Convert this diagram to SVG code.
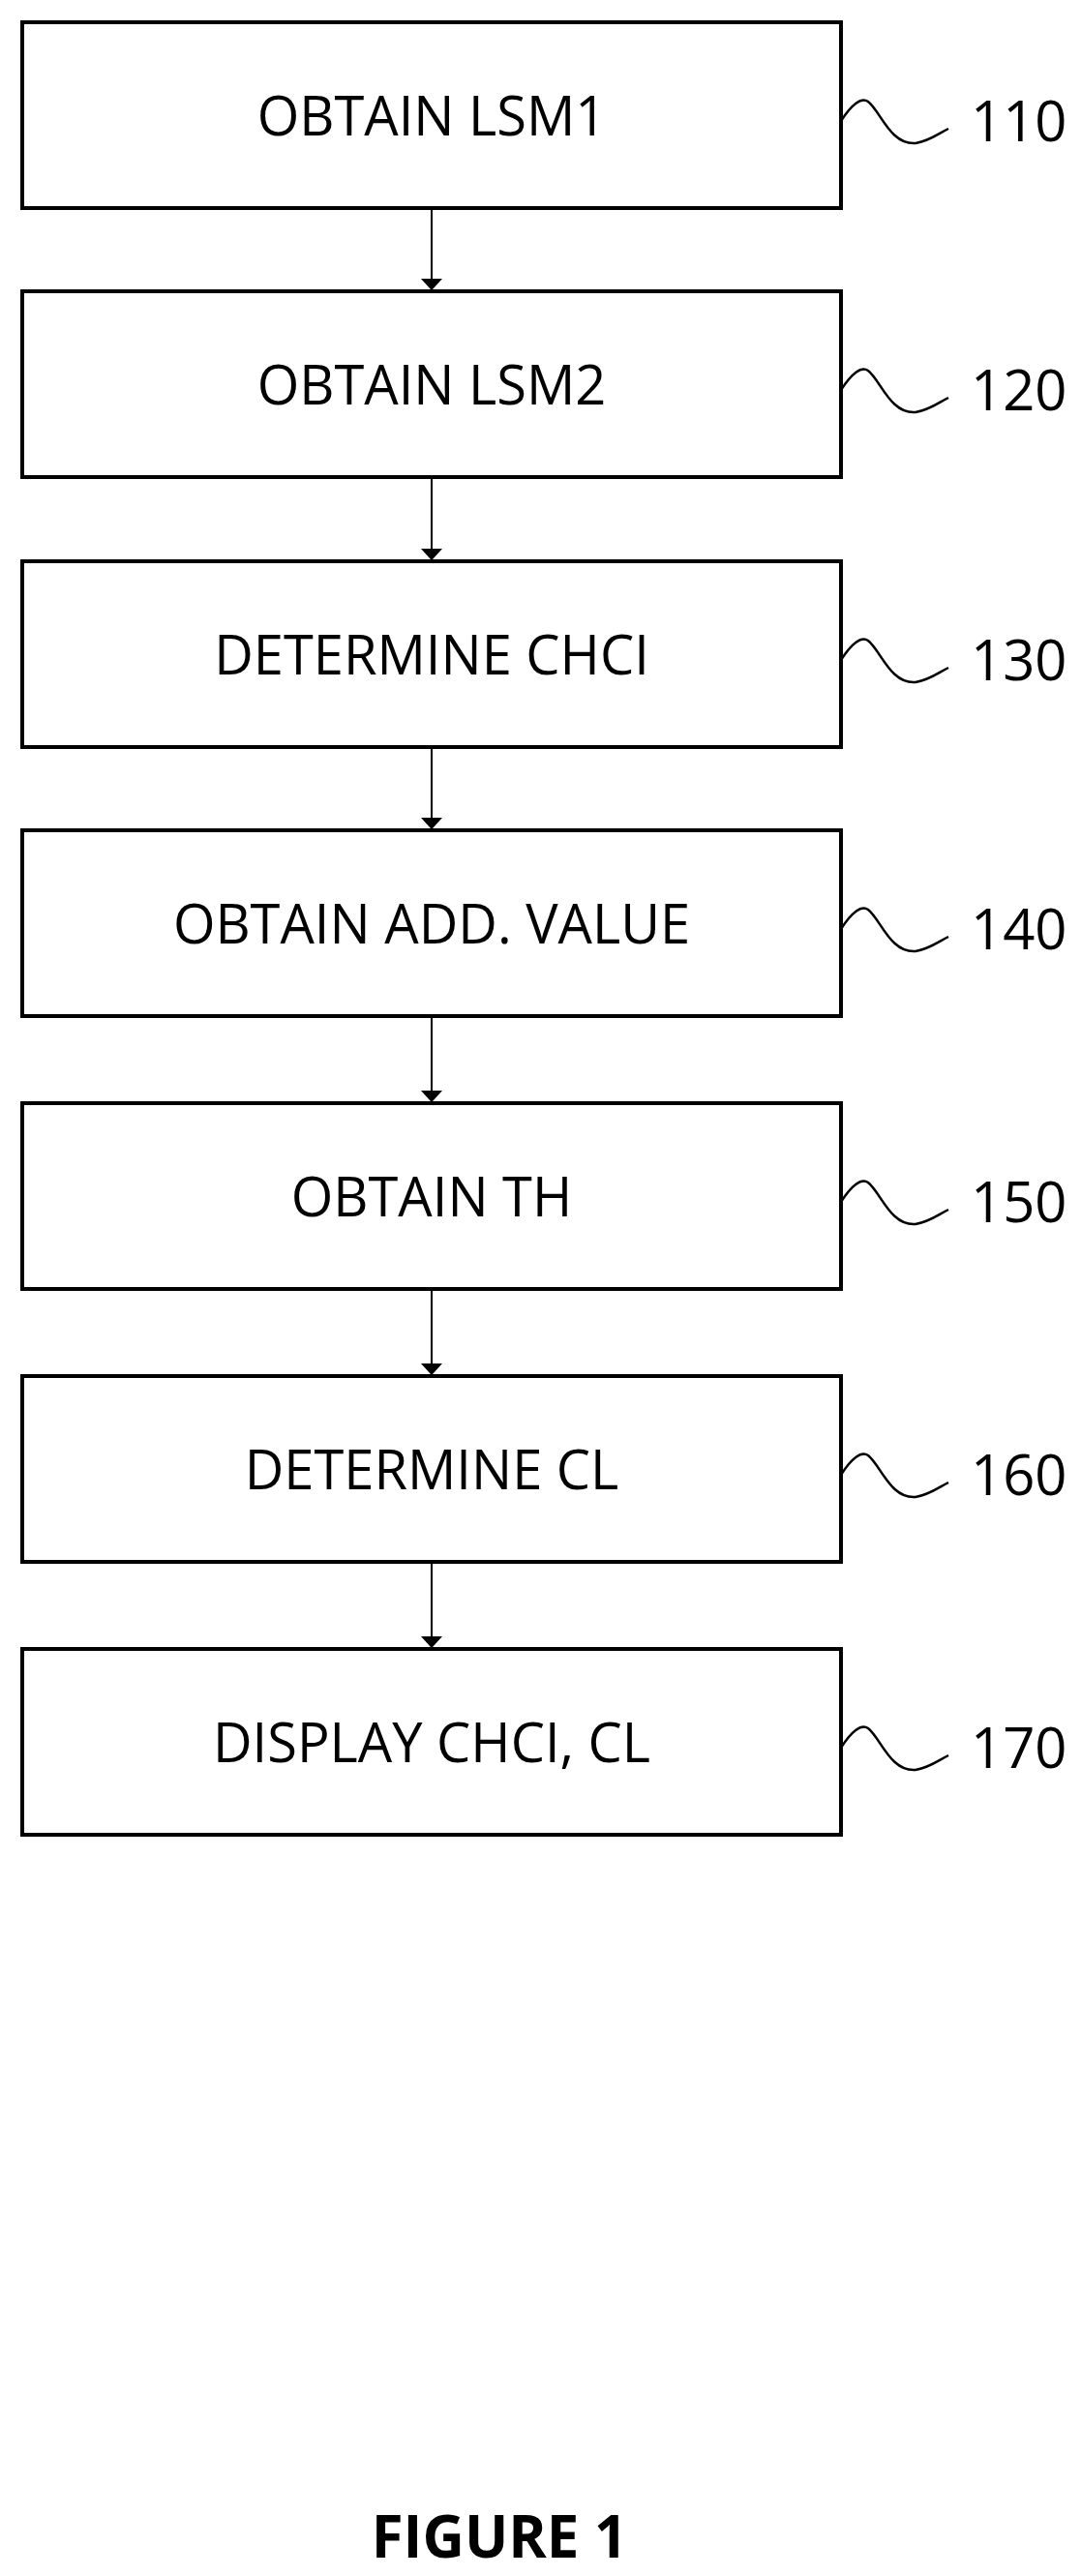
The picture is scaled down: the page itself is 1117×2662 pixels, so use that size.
<svg xmlns="http://www.w3.org/2000/svg" width="1117" height="2662" viewBox="0 0 1117 2662">
<style>
.box{fill:#fff;stroke:#000;stroke-width:4}
.t{font-family:"Open Sans","Liberation Sans",sans-serif;font-size:56px;text-anchor:middle}
.n{font-family:"Open Sans","Liberation Sans",sans-serif;font-size:58px}
.sq{fill:none;stroke:#000;stroke-width:2.5}
.c{stroke:#000;stroke-width:2;marker-end:url(#a)}
</style>
<defs><marker id="a" markerWidth="12" markerHeight="22" refX="12" refY="11" orient="auto" markerUnits="userSpaceOnUse"><path d="M0,0 L22,11 L0,22 Z" transform="scale(0.55,1)"/></marker></defs>
<rect width="1117" height="2662" fill="#fff"/>
<g id="connectors">
<line class="c" x1="446" y1="215" x2="446" y2="300"/>
<line class="c" x1="446" y1="493" x2="446" y2="579"/>
<line class="c" x1="446" y1="772" x2="446" y2="857"/>
<line class="c" x1="446" y1="1050" x2="446" y2="1139"/>
<line class="c" x1="446" y1="1332" x2="446" y2="1421"/>
<line class="c" x1="446" y1="1614" x2="446" y2="1703"/>
</g>
<g id="n110"><rect class="box" x="23" y="23" width="846" height="192"/><text class="t" x="446" y="140">OBTAIN LSM1</text><path class="sq" d="M869,125 C880,108 890,100 897,105 C910,115 920,150 946,148 C960,146 970,138 980,133"/><text class="n" x="1003" y="146">110</text></g>
<g id="n120"><rect class="box" x="23" y="301" width="846" height="192"/><text class="t" x="446" y="418">OBTAIN LSM2</text><path class="sq" d="M869,403 C880,386 890,378 897,383 C910,393 920,428 946,426 C960,424 970,416 980,411"/><text class="n" x="1003" y="424">120</text></g>
<g id="n130"><rect class="box" x="23" y="580" width="846" height="192"/><text class="t" x="446" y="697">DETERMINE CHCI</text><path class="sq" d="M869,682 C880,665 890,657 897,662 C910,672 920,707 946,705 C960,703 970,695 980,690"/><text class="n" x="1003" y="703">130</text></g>
<g id="n140"><rect class="box" x="23" y="858" width="846" height="192"/><text class="t" x="446" y="975">OBTAIN ADD. VALUE</text><path class="sq" d="M869,960 C880,943 890,935 897,940 C910,950 920,985 946,983 C960,981 970,973 980,968"/><text class="n" x="1003" y="981">140</text></g>
<g id="n150"><rect class="box" x="23" y="1140" width="846" height="192"/><text class="t" x="446" y="1257">OBTAIN TH</text><path class="sq" d="M869,1242 C880,1225 890,1217 897,1222 C910,1232 920,1267 946,1265 C960,1263 970,1255 980,1250"/><text class="n" x="1003" y="1263">150</text></g>
<g id="n160"><rect class="box" x="23" y="1422" width="846" height="192"/><text class="t" x="446" y="1539">DETERMINE CL</text><path class="sq" d="M869,1524 C880,1507 890,1499 897,1504 C910,1514 920,1549 946,1547 C960,1545 970,1537 980,1532"/><text class="n" x="1003" y="1545">160</text></g>
<g id="n170"><rect class="box" x="23" y="1704" width="846" height="192"/><text class="t" x="446" y="1821">DISPLAY CHCI, CL</text><path class="sq" d="M869,1806 C880,1789 890,1781 897,1786 C910,1796 920,1831 946,1829 C960,1827 970,1819 980,1814"/><text class="n" x="1003" y="1827">170</text></g>
<text x="516" y="2643" font-family="'Open Sans','Liberation Sans',sans-serif" font-size="60" font-weight="bold" text-anchor="middle">FIGURE 1</text>
</svg>
